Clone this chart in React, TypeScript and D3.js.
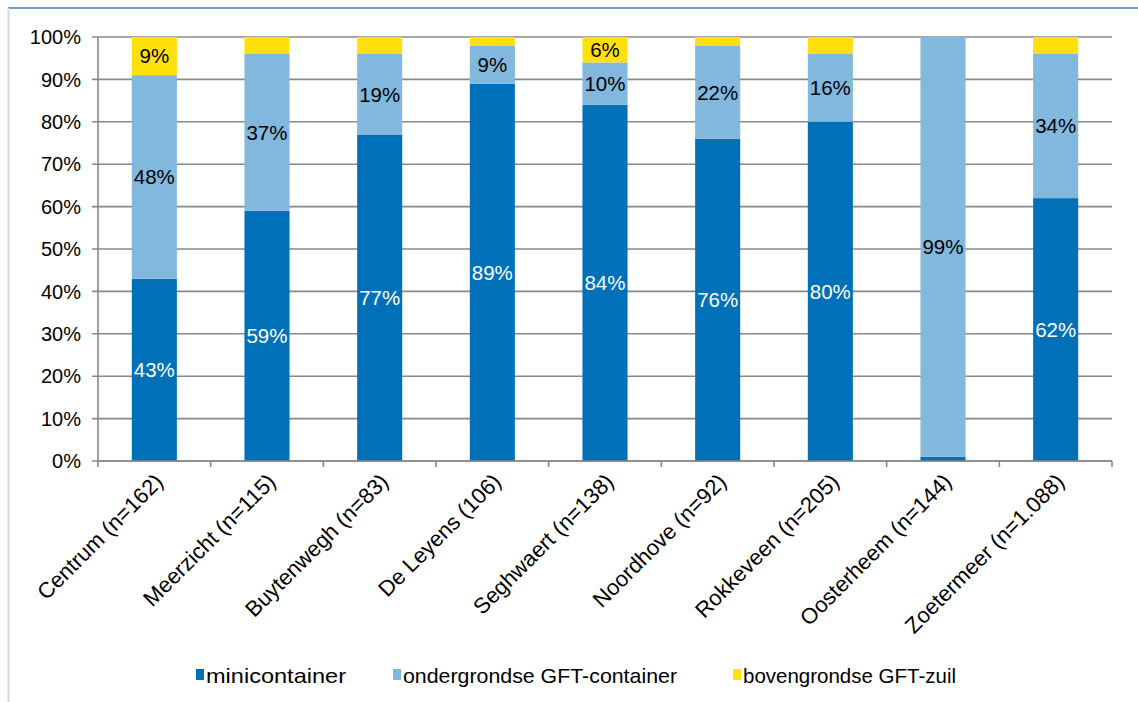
import * as d3 from "d3";
import React from "react";

const categories = [
  "Centrum (n=162)",
  "Meerzicht (n=115)",
  "Buytenwegh (n=83)",
  "De Leyens (106)",
  "Seghwaert (n=138)",
  "Noordhove (n=92)",
  "Rokkeveen (n=205)",
  "Oosterheem (n=144)",
  "Zoetermeer (n=1.088)",
];
const minicontainer = [43, 59, 77, 89, 84, 76, 80, 1, 62];
const ondergronds = [48, 37, 19, 9, 10, 22, 16, 99, 34];
const bovengronds = [9, 4, 4, 2, 6, 2, 4, 0, 4];

const seriesNames = ["minicontainer", "ondergrondse GFT-container", "bovengrondse GFT-zuil"];
const seriesColors = ["#0071b9", "#82b7de", "#ffe00b"];
const labelColors = ["#ffffff", "#000000", "#000000"];
const yTicks = [0, 10, 20, 30, 40, 50, 60, 70, 80, 90, 100];

const W = 1138;
const H = 702;
const left = 98;
const right = 1112;
const top = 37;
const bottom = 461;

const font = "'Liberation Sans', Arial, sans-serif";

export default function App() {
  const rows = categories.map((c, i) => ({
    cat: c,
    mini: minicontainer[i],
    onder: ondergronds[i],
    boven: bovengronds[i],
  }));
  const keys = ["mini", "onder", "boven"];
  const stacked = d3.stack<any>().keys(keys)(rows);

  const x = d3.scaleBand().domain(categories).range([left, right]).paddingInner(0.6).paddingOuter(0.3);
  const y = d3.scaleLinear().domain([0, 100]).range([bottom, top]);
  const step = x.step();

  // legend: square x and text width
  const legendX = [196, 393, 733];
  const legendW = [140, 274, 213];

  return (
    <svg width={W} height={H} style={{ position: "absolute", left: 0, top: 0, background: "#fff" }}>
      {/* frame */}
      <line x1={8} x2={W} y1={8} y2={8} stroke="#3a7fc4" strokeWidth={1.5} />
      <line x1={8.5} x2={8.5} y1={8} y2={H} stroke="#cdd9ee" strokeWidth={2} />

      {/* gridlines + y axis */}
      {yTicks.map((t) => (
        <g key={t}>
          <line x1={92} x2={right} y1={y(t)} y2={y(t)} stroke="#888" strokeWidth={1.6} />
          <text x={81} y={y(t)} dy="0.36em" textAnchor="end" fontFamily={font} fontSize={20} fill="#000">
            {t}%
          </text>
        </g>
      ))}
      <line x1={left} x2={left} y1={top} y2={bottom} stroke="#888" strokeWidth={1.6} />

      {/* bars */}
      {stacked.map((s, si) => (
        <g key={s.key}>
          {s.map((d, i) => {
            const h = y(d[0]) - y(d[1]);
            if (h <= 0) return null;
            const v = d[1] - d[0];
            const bx = x(categories[i])!;
            return (
              <g key={i}>
                <rect x={bx} y={y(d[1])} width={x.bandwidth()} height={h} fill={seriesColors[si]} />
                {v >= 5 && (
                  <text
                    x={bx + x.bandwidth() / 2}
                    y={(y(d[0]) + y(d[1])) / 2}
                    dy="0.36em"
                    textAnchor="middle"
                    fontFamily={font}
                    fontSize={20.5}
                    fill={labelColors[si]}
                  >
                    {v}%
                  </text>
                )}
              </g>
            );
          })}
        </g>
      ))}

      {/* x axis */}
      <line x1={left} x2={right} y1={bottom} y2={bottom} stroke="#888" strokeWidth={1.6} />
      {d3.range(categories.length + 1).map((k) => (
        <line key={k} x1={left + k * step} x2={left + k * step} y1={bottom} y2={bottom + 6} stroke="#888" strokeWidth={1.6} />
      ))}
      {categories.map((c) => {
        const cx = x(c)! + x.bandwidth() / 2;
        return (
          <text
            key={c}
            transform={`translate(${cx + 10},${bottom + 22}) rotate(-45)`}
            textAnchor="end"
            fontFamily={font}
            fontSize={22}
            fill="#000"
          >
            {c}
          </text>
        );
      })}

      {/* legend */}
      {seriesNames.map((n, i) => (
        <g key={n}>
          <rect x={legendX[i]} y={669} width={8} height={11} fill={seriesColors[i]} />
          <text
            x={legendX[i] + 10}
            y={683}
            fontFamily={font}
            fontSize={21}
            fill="#000"
            textLength={legendW[i]}
            lengthAdjust="spacingAndGlyphs"
          >
            {n}
          </text>
        </g>
      ))}
    </svg>
  );
}
